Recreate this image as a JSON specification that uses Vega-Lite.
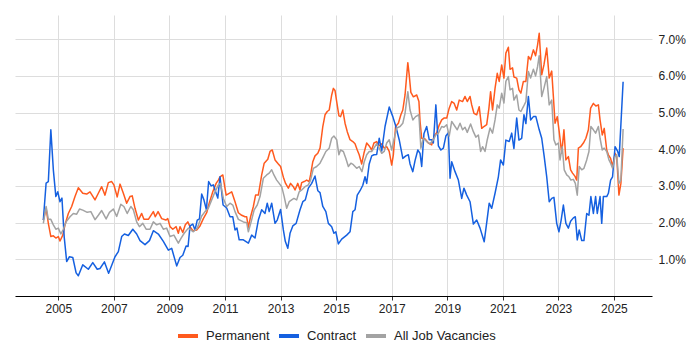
{
  "$schema": "https://vega.github.io/schema/vega-lite/v6.json",
  "width": 637,
  "height": 281,
  "autosize": {"type": "none"},
  "padding": {"left": 15, "top": 15, "right": 48, "bottom": 54},
  "background": "white",
  "config": {
    "font": "Liberation Sans",
    "view": {"stroke": null},
    "legend": {"padding": 0}
  },
  "datasets": {
    "permanent": [
      {"year": 2004.46, "pct": 2.07}, {"year": 2004.56, "pct": 2.39}, {"year": 2004.64, "pct": 1.98}, {"year": 2004.73, "pct": 1.62},
      {"year": 2004.82, "pct": 1.64}, {"year": 2004.91, "pct": 1.58}, {"year": 2005.00, "pct": 1.62}, {"year": 2005.06, "pct": 1.50},
      {"year": 2005.16, "pct": 1.66}, {"year": 2005.24, "pct": 1.94}, {"year": 2005.36, "pct": 2.25}, {"year": 2005.48, "pct": 2.44},
      {"year": 2005.60, "pct": 2.71}, {"year": 2005.72, "pct": 2.95}, {"year": 2005.88, "pct": 2.80}, {"year": 2006.02, "pct": 2.78},
      {"year": 2006.14, "pct": 2.84}, {"year": 2006.32, "pct": 2.62}, {"year": 2006.44, "pct": 2.80}, {"year": 2006.56, "pct": 2.98},
      {"year": 2006.68, "pct": 2.75}, {"year": 2006.80, "pct": 3.09}, {"year": 2006.92, "pct": 3.12}, {"year": 2007.00, "pct": 3.03},
      {"year": 2007.12, "pct": 2.70}, {"year": 2007.22, "pct": 3.05}, {"year": 2007.34, "pct": 2.80}, {"year": 2007.46, "pct": 2.53},
      {"year": 2007.58, "pct": 2.71}, {"year": 2007.66, "pct": 2.73}, {"year": 2007.76, "pct": 2.39}, {"year": 2007.88, "pct": 2.07},
      {"year": 2008.00, "pct": 2.25}, {"year": 2008.08, "pct": 2.09}, {"year": 2008.24, "pct": 2.09}, {"year": 2008.42, "pct": 2.30},
      {"year": 2008.49, "pct": 2.16}, {"year": 2008.59, "pct": 2.30}, {"year": 2008.72, "pct": 2.11}, {"year": 2008.87, "pct": 2.07},
      {"year": 2008.94, "pct": 2.11}, {"year": 2009.02, "pct": 1.89}, {"year": 2009.12, "pct": 1.82}, {"year": 2009.24, "pct": 1.89},
      {"year": 2009.32, "pct": 1.71}, {"year": 2009.38, "pct": 1.89}, {"year": 2009.48, "pct": 1.73}, {"year": 2009.57, "pct": 1.94},
      {"year": 2009.66, "pct": 2.02}, {"year": 2009.74, "pct": 1.89}, {"year": 2009.84, "pct": 1.78}, {"year": 2009.98, "pct": 1.80},
      {"year": 2010.10, "pct": 1.91}, {"year": 2010.22, "pct": 2.11}, {"year": 2010.34, "pct": 2.27}, {"year": 2010.43, "pct": 2.53},
      {"year": 2010.56, "pct": 2.84}, {"year": 2010.68, "pct": 3.07}, {"year": 2010.76, "pct": 3.16}, {"year": 2010.82, "pct": 3.25},
      {"year": 2010.92, "pct": 3.30}, {"year": 2011.04, "pct": 2.75}, {"year": 2011.15, "pct": 2.80}, {"year": 2011.24, "pct": 2.84},
      {"year": 2011.36, "pct": 2.57}, {"year": 2011.48, "pct": 2.27}, {"year": 2011.60, "pct": 2.20}, {"year": 2011.72, "pct": 2.16},
      {"year": 2011.78, "pct": 2.16}, {"year": 2011.84, "pct": 1.87}, {"year": 2011.92, "pct": 2.16}, {"year": 2012.02, "pct": 2.44},
      {"year": 2012.10, "pct": 2.75}, {"year": 2012.20, "pct": 2.75}, {"year": 2012.32, "pct": 3.30}, {"year": 2012.41, "pct": 3.62},
      {"year": 2012.54, "pct": 3.73}, {"year": 2012.62, "pct": 3.94}, {"year": 2012.70, "pct": 3.98}, {"year": 2012.80, "pct": 3.71},
      {"year": 2012.92, "pct": 3.60}, {"year": 2013.00, "pct": 3.53}, {"year": 2013.10, "pct": 3.24}, {"year": 2013.18, "pct": 3.07},
      {"year": 2013.28, "pct": 2.94}, {"year": 2013.36, "pct": 3.07}, {"year": 2013.46, "pct": 2.98}, {"year": 2013.52, "pct": 2.89},
      {"year": 2013.62, "pct": 3.07}, {"year": 2013.70, "pct": 2.89}, {"year": 2013.76, "pct": 3.09}, {"year": 2013.85, "pct": 3.12},
      {"year": 2013.94, "pct": 3.16}, {"year": 2014.03, "pct": 3.12}, {"year": 2014.08, "pct": 3.30}, {"year": 2014.16, "pct": 3.66},
      {"year": 2014.24, "pct": 3.82}, {"year": 2014.34, "pct": 3.89}, {"year": 2014.42, "pct": 4.03}, {"year": 2014.52, "pct": 4.62},
      {"year": 2014.60, "pct": 4.94}, {"year": 2014.68, "pct": 5.03}, {"year": 2014.75, "pct": 5.07}, {"year": 2014.84, "pct": 5.48},
      {"year": 2014.90, "pct": 5.66}, {"year": 2014.96, "pct": 5.60}, {"year": 2015.02, "pct": 5.30}, {"year": 2015.10, "pct": 4.91},
      {"year": 2015.16, "pct": 4.89}, {"year": 2015.24, "pct": 5.07}, {"year": 2015.32, "pct": 4.71}, {"year": 2015.40, "pct": 4.48},
      {"year": 2015.50, "pct": 4.26}, {"year": 2015.60, "pct": 4.21}, {"year": 2015.68, "pct": 4.15}, {"year": 2015.76, "pct": 3.98},
      {"year": 2015.83, "pct": 3.85}, {"year": 2015.92, "pct": 3.60}, {"year": 2016.00, "pct": 3.89}, {"year": 2016.10, "pct": 4.17},
      {"year": 2016.19, "pct": 4.09}, {"year": 2016.28, "pct": 3.98}, {"year": 2016.36, "pct": 4.17}, {"year": 2016.46, "pct": 4.21},
      {"year": 2016.54, "pct": 4.09}, {"year": 2016.64, "pct": 4.15}, {"year": 2016.73, "pct": 4.03}, {"year": 2016.82, "pct": 4.07},
      {"year": 2016.91, "pct": 3.94}, {"year": 2017.00, "pct": 3.57}, {"year": 2017.06, "pct": 3.85}, {"year": 2017.14, "pct": 4.62},
      {"year": 2017.24, "pct": 4.71}, {"year": 2017.33, "pct": 4.94}, {"year": 2017.40, "pct": 5.07}, {"year": 2017.48, "pct": 5.48},
      {"year": 2017.58, "pct": 6.36}, {"year": 2017.63, "pct": 6.03}, {"year": 2017.69, "pct": 5.55}, {"year": 2017.78, "pct": 5.43},
      {"year": 2017.90, "pct": 5.48}, {"year": 2017.98, "pct": 5.30}, {"year": 2018.02, "pct": 4.76}, {"year": 2018.08, "pct": 4.30},
      {"year": 2018.20, "pct": 4.28}, {"year": 2018.32, "pct": 4.17}, {"year": 2018.44, "pct": 4.12}, {"year": 2018.53, "pct": 4.36},
      {"year": 2018.62, "pct": 4.45}, {"year": 2018.71, "pct": 4.66}, {"year": 2018.80, "pct": 4.80}, {"year": 2018.88, "pct": 4.85},
      {"year": 2018.98, "pct": 4.85}, {"year": 2019.07, "pct": 5.12}, {"year": 2019.16, "pct": 5.30}, {"year": 2019.25, "pct": 5.25},
      {"year": 2019.34, "pct": 5.07}, {"year": 2019.43, "pct": 5.34}, {"year": 2019.55, "pct": 5.30}, {"year": 2019.64, "pct": 5.44},
      {"year": 2019.72, "pct": 5.30}, {"year": 2019.82, "pct": 5.44}, {"year": 2019.88, "pct": 5.21}, {"year": 2019.96, "pct": 4.98},
      {"year": 2020.06, "pct": 4.94}, {"year": 2020.15, "pct": 5.16}, {"year": 2020.24, "pct": 4.57}, {"year": 2020.32, "pct": 4.62},
      {"year": 2020.42, "pct": 4.67}, {"year": 2020.50, "pct": 5.12}, {"year": 2020.56, "pct": 5.57}, {"year": 2020.63, "pct": 5.07},
      {"year": 2020.72, "pct": 5.66}, {"year": 2020.80, "pct": 6.07}, {"year": 2020.87, "pct": 5.85}, {"year": 2020.96, "pct": 6.30},
      {"year": 2021.04, "pct": 5.94}, {"year": 2021.11, "pct": 6.62}, {"year": 2021.20, "pct": 6.78}, {"year": 2021.26, "pct": 6.18},
      {"year": 2021.35, "pct": 6.22}, {"year": 2021.40, "pct": 5.97}, {"year": 2021.50, "pct": 5.94}, {"year": 2021.58, "pct": 5.62},
      {"year": 2021.65, "pct": 5.53}, {"year": 2021.74, "pct": 5.85}, {"year": 2021.83, "pct": 5.85}, {"year": 2021.92, "pct": 6.53},
      {"year": 2022.00, "pct": 6.44}, {"year": 2022.10, "pct": 6.71}, {"year": 2022.18, "pct": 6.55}, {"year": 2022.25, "pct": 6.84},
      {"year": 2022.31, "pct": 7.16}, {"year": 2022.40, "pct": 6.03}, {"year": 2022.48, "pct": 6.30}, {"year": 2022.58, "pct": 6.76},
      {"year": 2022.67, "pct": 5.94}, {"year": 2022.76, "pct": 6.13}, {"year": 2022.82, "pct": 5.44}, {"year": 2022.88, "pct": 4.71},
      {"year": 2022.96, "pct": 4.89}, {"year": 2023.03, "pct": 4.48}, {"year": 2023.12, "pct": 3.89}, {"year": 2023.20, "pct": 4.53},
      {"year": 2023.27, "pct": 3.71}, {"year": 2023.36, "pct": 3.80}, {"year": 2023.44, "pct": 3.44}, {"year": 2023.51, "pct": 3.35},
      {"year": 2023.60, "pct": 3.26}, {"year": 2023.66, "pct": 3.16}, {"year": 2023.72, "pct": 4.03}, {"year": 2023.80, "pct": 4.07},
      {"year": 2023.90, "pct": 4.17}, {"year": 2023.99, "pct": 4.30}, {"year": 2024.08, "pct": 4.53}, {"year": 2024.16, "pct": 5.12},
      {"year": 2024.26, "pct": 5.25}, {"year": 2024.35, "pct": 5.18}, {"year": 2024.44, "pct": 5.21}, {"year": 2024.50, "pct": 4.80},
      {"year": 2024.58, "pct": 4.39}, {"year": 2024.65, "pct": 4.57}, {"year": 2024.74, "pct": 3.98}, {"year": 2024.80, "pct": 3.85},
      {"year": 2024.88, "pct": 3.75}, {"year": 2024.95, "pct": 3.53}, {"year": 2025.04, "pct": 3.89}, {"year": 2025.10, "pct": 3.80},
      {"year": 2025.18, "pct": 2.75}, {"year": 2025.25, "pct": 3.07}, {"year": 2025.33, "pct": 4.03}
    ],
    "contract": [
      {"year": 2004.46, "pct": 2.07}, {"year": 2004.56, "pct": 3.08}, {"year": 2004.64, "pct": 3.12}, {"year": 2004.73, "pct": 4.53},
      {"year": 2004.82, "pct": 3.44}, {"year": 2004.91, "pct": 2.71}, {"year": 2004.98, "pct": 2.84}, {"year": 2005.06, "pct": 2.57},
      {"year": 2005.13, "pct": 2.67}, {"year": 2005.21, "pct": 1.62}, {"year": 2005.30, "pct": 0.94}, {"year": 2005.40, "pct": 1.07},
      {"year": 2005.52, "pct": 1.05}, {"year": 2005.64, "pct": 0.63}, {"year": 2005.72, "pct": 0.55}, {"year": 2005.88, "pct": 0.85},
      {"year": 2006.08, "pct": 0.73}, {"year": 2006.24, "pct": 0.91}, {"year": 2006.40, "pct": 0.73}, {"year": 2006.50, "pct": 0.75},
      {"year": 2006.66, "pct": 0.93}, {"year": 2006.81, "pct": 0.62}, {"year": 2007.04, "pct": 1.07}, {"year": 2007.16, "pct": 1.21},
      {"year": 2007.28, "pct": 1.62}, {"year": 2007.38, "pct": 1.69}, {"year": 2007.52, "pct": 1.65}, {"year": 2007.68, "pct": 1.82},
      {"year": 2007.82, "pct": 1.69}, {"year": 2007.94, "pct": 1.51}, {"year": 2008.12, "pct": 1.40}, {"year": 2008.28, "pct": 1.51},
      {"year": 2008.42, "pct": 1.78}, {"year": 2008.60, "pct": 1.69}, {"year": 2008.78, "pct": 1.49}, {"year": 2008.96, "pct": 1.25},
      {"year": 2009.08, "pct": 1.30}, {"year": 2009.26, "pct": 0.82}, {"year": 2009.38, "pct": 1.05}, {"year": 2009.48, "pct": 1.11},
      {"year": 2009.60, "pct": 1.36}, {"year": 2009.67, "pct": 1.35}, {"year": 2009.74, "pct": 1.91}, {"year": 2009.84, "pct": 1.96},
      {"year": 2009.92, "pct": 1.80}, {"year": 2010.00, "pct": 2.07}, {"year": 2010.08, "pct": 2.10}, {"year": 2010.16, "pct": 2.78},
      {"year": 2010.24, "pct": 2.62}, {"year": 2010.33, "pct": 2.35}, {"year": 2010.41, "pct": 3.12}, {"year": 2010.50, "pct": 3.00},
      {"year": 2010.58, "pct": 3.03}, {"year": 2010.68, "pct": 2.80}, {"year": 2010.74, "pct": 2.67}, {"year": 2010.82, "pct": 3.25},
      {"year": 2010.93, "pct": 2.48}, {"year": 2011.06, "pct": 2.40}, {"year": 2011.18, "pct": 2.16}, {"year": 2011.28, "pct": 2.16},
      {"year": 2011.36, "pct": 1.80}, {"year": 2011.43, "pct": 1.85}, {"year": 2011.51, "pct": 1.53}, {"year": 2011.66, "pct": 1.53},
      {"year": 2011.84, "pct": 1.44}, {"year": 2011.96, "pct": 1.66}, {"year": 2012.08, "pct": 1.58}, {"year": 2012.20, "pct": 2.07},
      {"year": 2012.32, "pct": 2.35}, {"year": 2012.44, "pct": 2.25}, {"year": 2012.52, "pct": 2.53}, {"year": 2012.59, "pct": 2.30},
      {"year": 2012.68, "pct": 2.53}, {"year": 2012.80, "pct": 1.98}, {"year": 2012.88, "pct": 2.07}, {"year": 2013.00, "pct": 2.36},
      {"year": 2013.10, "pct": 1.80}, {"year": 2013.17, "pct": 1.49}, {"year": 2013.26, "pct": 1.30}, {"year": 2013.34, "pct": 1.71},
      {"year": 2013.44, "pct": 1.91}, {"year": 2013.56, "pct": 1.98}, {"year": 2013.70, "pct": 2.35}, {"year": 2013.80, "pct": 2.57},
      {"year": 2013.89, "pct": 2.62}, {"year": 2014.00, "pct": 2.94}, {"year": 2014.12, "pct": 3.07}, {"year": 2014.24, "pct": 3.27},
      {"year": 2014.34, "pct": 2.87}, {"year": 2014.42, "pct": 2.82}, {"year": 2014.52, "pct": 2.44}, {"year": 2014.63, "pct": 2.30},
      {"year": 2014.72, "pct": 1.98}, {"year": 2014.84, "pct": 1.89}, {"year": 2014.92, "pct": 1.71}, {"year": 2014.99, "pct": 1.75},
      {"year": 2015.08, "pct": 1.42}, {"year": 2015.20, "pct": 1.55}, {"year": 2015.38, "pct": 1.66}, {"year": 2015.50, "pct": 1.75},
      {"year": 2015.60, "pct": 2.30}, {"year": 2015.68, "pct": 2.35}, {"year": 2015.76, "pct": 2.75}, {"year": 2015.86, "pct": 2.87},
      {"year": 2015.96, "pct": 3.02}, {"year": 2016.04, "pct": 3.25}, {"year": 2016.10, "pct": 3.07}, {"year": 2016.19, "pct": 3.60},
      {"year": 2016.28, "pct": 3.82}, {"year": 2016.36, "pct": 3.85}, {"year": 2016.46, "pct": 3.86}, {"year": 2016.55, "pct": 4.30},
      {"year": 2016.64, "pct": 3.95}, {"year": 2016.76, "pct": 4.62}, {"year": 2016.91, "pct": 5.15}, {"year": 2017.04, "pct": 4.89},
      {"year": 2017.15, "pct": 4.62}, {"year": 2017.27, "pct": 4.26}, {"year": 2017.40, "pct": 3.75}, {"year": 2017.51, "pct": 3.82},
      {"year": 2017.60, "pct": 3.85}, {"year": 2017.66, "pct": 3.60}, {"year": 2017.76, "pct": 3.39}, {"year": 2017.84, "pct": 3.69},
      {"year": 2017.94, "pct": 3.98}, {"year": 2018.02, "pct": 3.89}, {"year": 2018.08, "pct": 3.53}, {"year": 2018.16, "pct": 4.42},
      {"year": 2018.26, "pct": 4.62}, {"year": 2018.35, "pct": 4.26}, {"year": 2018.44, "pct": 4.26}, {"year": 2018.50, "pct": 4.17},
      {"year": 2018.59, "pct": 5.21}, {"year": 2018.68, "pct": 4.09}, {"year": 2018.77, "pct": 3.98}, {"year": 2018.86, "pct": 4.03},
      {"year": 2018.95, "pct": 4.36}, {"year": 2019.04, "pct": 4.45}, {"year": 2019.10, "pct": 3.21}, {"year": 2019.16, "pct": 3.66},
      {"year": 2019.28, "pct": 3.39}, {"year": 2019.40, "pct": 3.16}, {"year": 2019.52, "pct": 2.66}, {"year": 2019.60, "pct": 2.94},
      {"year": 2019.70, "pct": 2.75}, {"year": 2019.82, "pct": 2.57}, {"year": 2019.94, "pct": 1.96}, {"year": 2020.06, "pct": 2.07},
      {"year": 2020.18, "pct": 1.85}, {"year": 2020.33, "pct": 1.48}, {"year": 2020.42, "pct": 2.00}, {"year": 2020.51, "pct": 2.53},
      {"year": 2020.60, "pct": 2.39}, {"year": 2020.72, "pct": 2.80}, {"year": 2020.84, "pct": 3.25}, {"year": 2020.92, "pct": 3.71},
      {"year": 2021.02, "pct": 3.57}, {"year": 2021.11, "pct": 4.25}, {"year": 2021.23, "pct": 4.21}, {"year": 2021.32, "pct": 4.44},
      {"year": 2021.40, "pct": 4.02}, {"year": 2021.50, "pct": 4.85}, {"year": 2021.58, "pct": 4.25}, {"year": 2021.68, "pct": 4.30},
      {"year": 2021.76, "pct": 4.94}, {"year": 2021.83, "pct": 4.70}, {"year": 2021.92, "pct": 5.44}, {"year": 2022.00, "pct": 4.80},
      {"year": 2022.10, "pct": 4.89}, {"year": 2022.19, "pct": 4.89}, {"year": 2022.31, "pct": 4.53}, {"year": 2022.40, "pct": 4.30},
      {"year": 2022.49, "pct": 3.80}, {"year": 2022.58, "pct": 3.25}, {"year": 2022.67, "pct": 2.57}, {"year": 2022.76, "pct": 2.66},
      {"year": 2022.84, "pct": 2.69}, {"year": 2022.94, "pct": 1.98}, {"year": 2023.02, "pct": 1.75}, {"year": 2023.10, "pct": 2.07},
      {"year": 2023.18, "pct": 2.48}, {"year": 2023.27, "pct": 1.98}, {"year": 2023.36, "pct": 1.85}, {"year": 2023.44, "pct": 2.04},
      {"year": 2023.54, "pct": 2.13}, {"year": 2023.61, "pct": 2.16}, {"year": 2023.68, "pct": 1.53}, {"year": 2023.75, "pct": 1.80},
      {"year": 2023.84, "pct": 1.51}, {"year": 2023.92, "pct": 1.51}, {"year": 2024.02, "pct": 2.25}, {"year": 2024.10, "pct": 2.20},
      {"year": 2024.17, "pct": 2.71}, {"year": 2024.26, "pct": 2.25}, {"year": 2024.34, "pct": 2.71}, {"year": 2024.40, "pct": 2.25},
      {"year": 2024.50, "pct": 2.71}, {"year": 2024.56, "pct": 1.98}, {"year": 2024.62, "pct": 2.71}, {"year": 2024.74, "pct": 2.71},
      {"year": 2024.80, "pct": 2.80}, {"year": 2024.88, "pct": 3.16}, {"year": 2024.95, "pct": 3.25}, {"year": 2025.04, "pct": 4.07},
      {"year": 2025.13, "pct": 3.95}, {"year": 2025.19, "pct": 3.80}, {"year": 2025.33, "pct": 5.84}
    ],
    "all": [
      {"year": 2004.46, "pct": 1.98}, {"year": 2004.56, "pct": 2.44}, {"year": 2004.64, "pct": 2.09}, {"year": 2004.73, "pct": 2.09},
      {"year": 2004.82, "pct": 1.94}, {"year": 2004.91, "pct": 1.82}, {"year": 2005.00, "pct": 1.85}, {"year": 2005.09, "pct": 1.69},
      {"year": 2005.18, "pct": 1.82}, {"year": 2005.28, "pct": 2.02}, {"year": 2005.42, "pct": 2.16}, {"year": 2005.54, "pct": 2.25},
      {"year": 2005.66, "pct": 2.23}, {"year": 2005.76, "pct": 2.37}, {"year": 2005.88, "pct": 2.34}, {"year": 2006.04, "pct": 2.28},
      {"year": 2006.17, "pct": 2.30}, {"year": 2006.32, "pct": 2.08}, {"year": 2006.44, "pct": 2.20}, {"year": 2006.56, "pct": 2.33},
      {"year": 2006.72, "pct": 2.10}, {"year": 2006.84, "pct": 2.28}, {"year": 2006.98, "pct": 2.37}, {"year": 2007.10, "pct": 2.17},
      {"year": 2007.25, "pct": 2.50}, {"year": 2007.36, "pct": 2.44}, {"year": 2007.48, "pct": 2.25}, {"year": 2007.61, "pct": 2.44},
      {"year": 2007.70, "pct": 2.35}, {"year": 2007.82, "pct": 2.02}, {"year": 2007.92, "pct": 1.89}, {"year": 2008.04, "pct": 1.98},
      {"year": 2008.16, "pct": 1.82}, {"year": 2008.30, "pct": 1.82}, {"year": 2008.42, "pct": 2.02}, {"year": 2008.54, "pct": 1.94},
      {"year": 2008.66, "pct": 1.98}, {"year": 2008.78, "pct": 1.82}, {"year": 2008.90, "pct": 1.85}, {"year": 2009.02, "pct": 1.62},
      {"year": 2009.16, "pct": 1.66}, {"year": 2009.32, "pct": 1.44}, {"year": 2009.42, "pct": 1.58}, {"year": 2009.53, "pct": 1.71},
      {"year": 2009.68, "pct": 1.85}, {"year": 2009.86, "pct": 1.75}, {"year": 2010.00, "pct": 1.85}, {"year": 2010.16, "pct": 2.18},
      {"year": 2010.28, "pct": 2.30}, {"year": 2010.40, "pct": 2.39}, {"year": 2010.52, "pct": 2.62}, {"year": 2010.64, "pct": 2.84},
      {"year": 2010.76, "pct": 3.03}, {"year": 2010.84, "pct": 3.07}, {"year": 2010.94, "pct": 2.66}, {"year": 2011.06, "pct": 2.44},
      {"year": 2011.18, "pct": 2.53}, {"year": 2011.28, "pct": 2.48}, {"year": 2011.36, "pct": 2.30}, {"year": 2011.48, "pct": 2.09},
      {"year": 2011.66, "pct": 2.02}, {"year": 2011.78, "pct": 2.00}, {"year": 2011.84, "pct": 1.75}, {"year": 2011.94, "pct": 2.02},
      {"year": 2012.05, "pct": 2.35}, {"year": 2012.16, "pct": 2.48}, {"year": 2012.26, "pct": 2.71}, {"year": 2012.38, "pct": 3.21},
      {"year": 2012.50, "pct": 3.30}, {"year": 2012.59, "pct": 3.35}, {"year": 2012.68, "pct": 3.44}, {"year": 2012.76, "pct": 3.30},
      {"year": 2012.86, "pct": 3.16}, {"year": 2012.95, "pct": 3.07}, {"year": 2013.04, "pct": 2.98}, {"year": 2013.13, "pct": 2.71},
      {"year": 2013.22, "pct": 2.39}, {"year": 2013.31, "pct": 2.57}, {"year": 2013.40, "pct": 2.62}, {"year": 2013.48, "pct": 2.66},
      {"year": 2013.58, "pct": 2.62}, {"year": 2013.67, "pct": 2.84}, {"year": 2013.76, "pct": 2.89}, {"year": 2013.88, "pct": 2.98},
      {"year": 2014.00, "pct": 3.03}, {"year": 2014.08, "pct": 3.16}, {"year": 2014.18, "pct": 3.48}, {"year": 2014.30, "pct": 3.53},
      {"year": 2014.42, "pct": 3.62}, {"year": 2014.54, "pct": 3.80}, {"year": 2014.63, "pct": 3.94}, {"year": 2014.75, "pct": 4.03},
      {"year": 2014.84, "pct": 4.30}, {"year": 2014.92, "pct": 4.36}, {"year": 2015.02, "pct": 4.26}, {"year": 2015.10, "pct": 3.85},
      {"year": 2015.16, "pct": 3.98}, {"year": 2015.26, "pct": 3.94}, {"year": 2015.35, "pct": 3.75}, {"year": 2015.44, "pct": 3.53},
      {"year": 2015.53, "pct": 3.62}, {"year": 2015.62, "pct": 3.58}, {"year": 2015.74, "pct": 3.48}, {"year": 2015.83, "pct": 3.53},
      {"year": 2015.93, "pct": 3.39}, {"year": 2016.01, "pct": 3.66}, {"year": 2016.10, "pct": 3.85}, {"year": 2016.19, "pct": 3.94},
      {"year": 2016.28, "pct": 3.94}, {"year": 2016.36, "pct": 4.03}, {"year": 2016.46, "pct": 4.15}, {"year": 2016.55, "pct": 4.03},
      {"year": 2016.64, "pct": 3.89}, {"year": 2016.73, "pct": 3.94}, {"year": 2016.82, "pct": 4.17}, {"year": 2016.91, "pct": 4.26},
      {"year": 2017.00, "pct": 3.98}, {"year": 2017.08, "pct": 4.26}, {"year": 2017.18, "pct": 4.58}, {"year": 2017.30, "pct": 4.62},
      {"year": 2017.40, "pct": 4.71}, {"year": 2017.48, "pct": 4.98}, {"year": 2017.58, "pct": 5.57}, {"year": 2017.66, "pct": 5.07},
      {"year": 2017.76, "pct": 4.80}, {"year": 2017.86, "pct": 4.89}, {"year": 2017.98, "pct": 4.94}, {"year": 2018.05, "pct": 4.03},
      {"year": 2018.14, "pct": 4.30}, {"year": 2018.26, "pct": 4.21}, {"year": 2018.38, "pct": 4.15}, {"year": 2018.50, "pct": 4.26},
      {"year": 2018.59, "pct": 4.39}, {"year": 2018.68, "pct": 4.44}, {"year": 2018.80, "pct": 4.62}, {"year": 2018.88, "pct": 4.60},
      {"year": 2018.98, "pct": 4.67}, {"year": 2019.07, "pct": 4.36}, {"year": 2019.16, "pct": 4.76}, {"year": 2019.28, "pct": 4.62},
      {"year": 2019.36, "pct": 4.53}, {"year": 2019.46, "pct": 4.71}, {"year": 2019.55, "pct": 4.53}, {"year": 2019.64, "pct": 4.60},
      {"year": 2019.72, "pct": 4.46}, {"year": 2019.84, "pct": 4.69}, {"year": 2019.94, "pct": 4.48}, {"year": 2020.03, "pct": 4.33},
      {"year": 2020.12, "pct": 4.39}, {"year": 2020.20, "pct": 3.94}, {"year": 2020.27, "pct": 4.07}, {"year": 2020.36, "pct": 3.94},
      {"year": 2020.44, "pct": 4.26}, {"year": 2020.54, "pct": 4.58}, {"year": 2020.63, "pct": 4.44}, {"year": 2020.72, "pct": 4.80},
      {"year": 2020.80, "pct": 5.21}, {"year": 2020.87, "pct": 5.12}, {"year": 2020.96, "pct": 5.53}, {"year": 2021.04, "pct": 5.26},
      {"year": 2021.11, "pct": 5.85}, {"year": 2021.20, "pct": 5.98}, {"year": 2021.26, "pct": 5.62}, {"year": 2021.35, "pct": 5.66},
      {"year": 2021.40, "pct": 5.34}, {"year": 2021.50, "pct": 5.48}, {"year": 2021.58, "pct": 5.07}, {"year": 2021.65, "pct": 5.03},
      {"year": 2021.74, "pct": 5.16}, {"year": 2021.83, "pct": 5.30}, {"year": 2021.92, "pct": 6.12}, {"year": 2022.00, "pct": 5.94},
      {"year": 2022.10, "pct": 6.18}, {"year": 2022.18, "pct": 6.00}, {"year": 2022.25, "pct": 6.25}, {"year": 2022.31, "pct": 6.55},
      {"year": 2022.40, "pct": 5.44}, {"year": 2022.48, "pct": 5.66}, {"year": 2022.58, "pct": 5.98}, {"year": 2022.67, "pct": 5.21},
      {"year": 2022.76, "pct": 5.34}, {"year": 2022.84, "pct": 4.26}, {"year": 2022.91, "pct": 4.12}, {"year": 2023.00, "pct": 4.17},
      {"year": 2023.06, "pct": 3.71}, {"year": 2023.14, "pct": 4.07}, {"year": 2023.21, "pct": 3.44}, {"year": 2023.30, "pct": 3.30},
      {"year": 2023.38, "pct": 3.25}, {"year": 2023.45, "pct": 3.16}, {"year": 2023.54, "pct": 3.18}, {"year": 2023.61, "pct": 3.07},
      {"year": 2023.68, "pct": 2.75}, {"year": 2023.75, "pct": 3.53}, {"year": 2023.84, "pct": 3.44}, {"year": 2023.92, "pct": 3.48},
      {"year": 2024.02, "pct": 3.71}, {"year": 2024.10, "pct": 3.94}, {"year": 2024.17, "pct": 4.62}, {"year": 2024.26, "pct": 4.53},
      {"year": 2024.34, "pct": 4.44}, {"year": 2024.44, "pct": 4.62}, {"year": 2024.50, "pct": 4.30}, {"year": 2024.58, "pct": 3.98},
      {"year": 2024.65, "pct": 4.03}, {"year": 2024.74, "pct": 3.94}, {"year": 2024.82, "pct": 3.71}, {"year": 2024.88, "pct": 3.62},
      {"year": 2024.95, "pct": 3.48}, {"year": 2025.04, "pct": 3.80}, {"year": 2025.10, "pct": 3.85}, {"year": 2025.18, "pct": 3.07},
      {"year": 2025.25, "pct": 3.16}, {"year": 2025.33, "pct": 4.55}
    ]
  },
  "encoding": {
    "x": {
      "field": "year",
      "type": "quantitative",
      "scale": {"domain": [2003.44, 2026.37], "nice": false, "zero": false},
      "axis": {
        "title": null,
        "values": [2005, 2007, 2009, 2011, 2013, 2015, 2017, 2019, 2021, 2023, 2025],
        "format": "d",
        "grid": true,
        "gridColor": "#dddddd",
        "domainColor": "#000000",
        "tickColor": "#333333",
        "tickSize": 4,
        "labelPadding": 3,
        "labelFontSize": 12,
        "labelColor": "#222222",
        "labelFlush": false
      }
    },
    "y": {
      "field": "pct",
      "type": "quantitative",
      "scale": {"domain": [0, 7.66], "nice": false},
      "axis": {
        "title": null,
        "orient": "right",
        "values": [1, 2, 3, 4, 5, 6, 7],
        "labelExpr": "format(datum.value, '.1f') + '%'",
        "grid": true,
        "gridColor": "#dddddd",
        "domain": false,
        "ticks": false,
        "labelPadding": 6,
        "labelFontSize": 12,
        "labelColor": "#222222"
      }
    },
    "color": {
      "scale": {
        "domain": ["Permanent", "Contract", "All Job Vacancies"],
        "range": ["#ff5a1e", "#1560e0", "#a3a3a3"]
      },
      "legend": {
        "title": null,
        "orient": "none",
        "direction": "horizontal",
        "legendX": 161,
        "legendY": 309,
        "symbolType": "stroke",
        "symbolStrokeWidth": 4,
        "symbolSize": 400,
        "labelFontSize": 13,
        "labelColor": "#222222",
        "labelOffset": 6,
        "columnPadding": 1
      }
    }
  },
  "layer": [
    {
      "data": {"name": "permanent"},
      "mark": {"type": "line", "strokeWidth": 1.5, "strokeJoin": "round"},
      "encoding": {"color": {"datum": "Permanent"}}
    },
    {
      "data": {"name": "contract"},
      "mark": {"type": "line", "strokeWidth": 1.5, "strokeJoin": "round"},
      "encoding": {"color": {"datum": "Contract"}}
    },
    {
      "data": {"name": "all"},
      "mark": {"type": "line", "strokeWidth": 1.5, "strokeJoin": "round"},
      "encoding": {"color": {"datum": "All Job Vacancies"}}
    }
  ]
}
